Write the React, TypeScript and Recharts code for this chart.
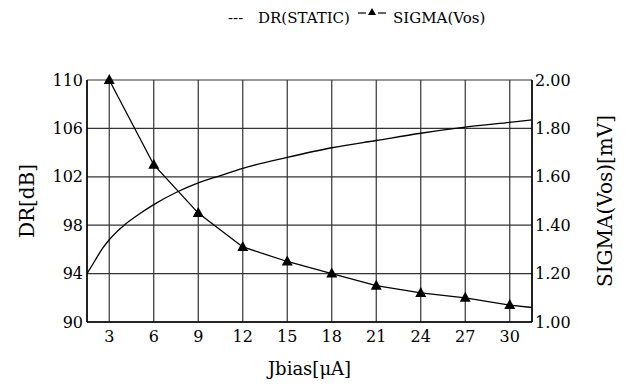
import { LineChart, Line, XAxis, YAxis, CartesianGrid, Label } from 'recharts';

// Jbias [uA] sample positions (extra points only to draw the smooth DR curve)
const jbias = [1.5, 2, 2.5, 3, 4, 5, 6, 7.5, 9, 10.5, 12, 15, 18, 21, 24, 27, 30, 31.5];
const drStatic = [94.0, 95.0, 96.0, 96.8, 98.0, 98.9, 99.7, 100.7, 101.5, 102.1, 102.7, 103.6, 104.4, 105.0, 105.6, 106.1, 106.5, 106.7];
const sigmaVos = [null, null, null, 2.0, null, null, 1.65, null, 1.45, null, 1.31, 1.25, 1.2, 1.15, 1.12, 1.1, 1.07, 1.06];

const xTicks = [3, 6, 9, 12, 15, 18, 21, 24, 27, 30];
const drTicks = [90, 94, 98, 102, 106, 110];
const sigmaTicks = [1.0, 1.2, 1.4, 1.6, 1.8, 2.0];

const data = jbias.map((x, i) => ({ x, dr: drStatic[i], sigma: sigmaVos[i] }));

const FONT = 'DejaVu Serif';

const Triangle = (props: any) => {
  const { cx, cy, payload } = props;
  if (cx == null || cy == null || !xTicks.includes(payload.x)) return <g key={`t-${payload?.x}`} />;
  return (
    <path
      key={`t-${payload.x}`}
      d={`M${cx},${cy - 6} L${cx + 5.5},${cy + 4} L${cx - 5.5},${cy + 4} Z`}
      fill="#000"
    />
  );
};

function TopLegend() {
  const ts = { fontFamily: FONT, fontSize: 15, fill: '#000' };
  return (
    <svg style={{ position: 'absolute', left: 0, top: 0 }} width={630} height={40}>
      <text x={228} y={23} style={ts}>---</text>
      <text x={258} y={23} style={ts}>DR(STATIC)</text>
      <text x={393} y={23} style={ts}>SIGMA(Vos)</text>
      <line x1={358} y1={13} x2={366} y2={13} stroke="#000" strokeWidth={1.2} />
      <path d="M372,8 L376,15 L368,15 Z" fill="#000" />
      <line x1={378} y1={13} x2={386} y2={13} stroke="#000" strokeWidth={1.2} />
    </svg>
  );
}

export default function App() {
  const tick = { fill: '#000', fontSize: 16, fontFamily: FONT };
  const labelStyle = { fontFamily: FONT, fontSize: 20, fill: '#000' };
  return (
    <div style={{ position: 'absolute', left: 0, top: 0, width: 630, height: 390, background: '#fff' }}>
      <TopLegend />
      <LineChart width={630} height={390} data={data} margin={{ top: 80, right: 28, bottom: 18, left: 25 }}>
        <CartesianGrid yAxisId="left" stroke="#333" strokeWidth={1.2} />
        <XAxis
          dataKey="x"
          type="number"
          domain={[1.5, 31.5]}
          ticks={xTicks}
          tickLine={false}
          tickSize={0}
          tickMargin={9}
          axisLine={{ stroke: '#000', strokeWidth: 1.5 }}
          tick={tick}
          height={50}
        >
          <Label value="Jbias[μA]" position="insideBottom" offset={-3} style={{ ...labelStyle, fontSize: 18 }} />
        </XAxis>
        <YAxis
          yAxisId="left"
          domain={[90, 110]}
          ticks={drTicks}
          tickLine={false}
          tickSize={0}
          tickMargin={4}
          axisLine={{ stroke: '#000', strokeWidth: 1.5 }}
          tick={tick}
          width={62}
        >
          <Label value="DR[dB]" angle={-90} position="center" dx={-29} style={labelStyle} />
        </YAxis>
        <YAxis
          yAxisId="right"
          orientation="right"
          domain={[1.0, 2.0]}
          ticks={sigmaTicks}
          tickFormatter={(v: number) => v.toFixed(2)}
          tickLine={false}
          tickSize={0}
          tickMargin={3}
          axisLine={{ stroke: '#000', strokeWidth: 1.5 }}
          tick={tick}
          width={70}
        >
          <Label value="SIGMA(Vos)[mV]" angle={-90} position="center" dx={38} style={labelStyle} />
        </YAxis>
        <Line
          yAxisId="left"
          dataKey="dr"
          type="monotone"
          stroke="#000"
          strokeWidth={1.3}
          dot={false}
          isAnimationActive={false}
        />
        <Line
          yAxisId="right"
          dataKey="sigma"
          type="linear"
          stroke="#000"
          strokeWidth={1.3}
          connectNulls
          dot={Triangle}
          activeDot={false}
          isAnimationActive={false}
        />
      </LineChart>
    </div>
  );
}
